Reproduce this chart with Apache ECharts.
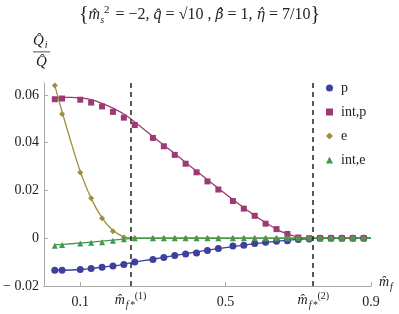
<!DOCTYPE html>
<html><head><meta charset="utf-8">
<script src="https://cdn.jsdelivr.net/npm/echarts@6/dist/echarts.min.js"></script>
<style>html,body{margin:0;padding:0;background:#fff}#c{width:399px;height:314px}</style>
</head><body><div id="c"></div>
<script>
// ---- data ----
const ptX = [0.03,0.05,0.10,0.13,0.16,0.19,0.22,0.25,0.30,0.33,0.36,0.39,0.42,0.45,0.48,0.52,0.55,0.58,0.61,0.64,0.67,0.70,0.73,0.76,0.79,0.82,0.85,0.88];
const pVals    = [-0.0134,-0.0134,-0.0131,-0.0127,-0.0121,-0.0116,-0.0110,-0.0100,-0.0089,-0.0081,-0.0072,-0.0066,-0.0062,-0.0051,-0.0043,-0.0033,-0.0029,-0.0022,-0.0017,-0.0013,-0.0011,-0.0005,-0.0003,0,0,0,0,0];
const intPVals = [0.0582,0.0585,0.0580,0.0568,0.0552,0.0529,0.0505,0.0474,0.0420,0.0385,0.0349,0.0312,0.0276,0.0238,0.0204,0.0156,0.0124,0.0094,0.0061,0.0038,0.0018,0.0003,0,0,0,0,0,0];
const eVals    = [0.0640,0.0520,0.0275,0.0167,0.0084,0.0029,0.0003,0,0,0,0,0,0,0,0,0,0,0,0,0,0,0,0,0,0,0,0,0];
const intEVals = [-0.0031,-0.0028,-0.0022,-0.0019,-0.0017,-0.0011,-0.0004,0,0,0,0,0,0,0,0,0,0,0,0,0,0,0,0,0,0,0,0,0];
// fitted curves
const cvX      = [0.03,0.05,0.075,0.10,0.13,0.16,0.19,0.22,0.25,0.30,0.35,0.40,0.45,0.50,0.55,0.60,0.65,0.70,0.75,0.80,0.85,0.90];
const pCurve   = [-0.0134,-0.0134,-0.0133,-0.0131,-0.0127,-0.0121,-0.0116,-0.0109,-0.0100,-0.0088,-0.0075,-0.0062,-0.0050,-0.0039,-0.0029,-0.0019,-0.0011,-0.0005,-0.0001,0,0,0];
const intPCurve= [0.0588,0.0590,0.0590,0.0588,0.0580,0.0565,0.0545,0.0520,0.0487,0.0426,0.0366,0.0305,0.0245,0.0185,0.0128,0.0075,0.0030,0.0005,0,0,0,0];
const eCurve   = [0.0640,0.0530,0.0400,0.0280,0.0167,0.0085,0.0032,0.0006,0,0,0,0,0,0,0,0,0,0,0,0,0,0];
const intECurve= [-0.0028,-0.0026,-0.0023,-0.0020,-0.0016,-0.0012,-0.0008,-0.0004,0,0,0,0,0,0,0,0,0,0,0,0,0,0];
const yTicks = [-0.02,0,0.02,0.04,0.06];
const xTicks = [0.1,0.5,0.9];
const critX = [0.239, 0.742];
const names = ['p','int,p','e','int,e'];
const colors = ['#3f3f9c','#9b3a74','#9c8f3d','#3e9a4c'];
const symbols = ['circle','rect','diamond','triangle'];
const symSizes = [7,6,6,6];

const F = 'Liberation Serif';
const G = 'DejaVu Serif';
const zip = (xs, ys) => xs.map((x,i)=>[x,ys[i]]);
const ptData = [pVals,intPVals,eVals,intEVals];
const cvData = [pCurve,intPCurve,eCurve,intECurve];

const series = [];
for (let i=0;i<4;i++){
  series.push({type:'line', data:zip(cvX,cvData[i]), smooth:0.25, showSymbol:false, silent:true,
    lineStyle:{color:colors[i], width:1.3}, z:2});
}
for (let i=0;i<4;i++){
  series.push({type:'scatter', name:names[i], data:zip(ptX,ptData[i]), symbol:symbols[i], symbolSize:symSizes[i],
    itemStyle:{color:colors[i], opacity:1}, z:3});
}
series.push({type:'line', data:[], markLine:{silent:true, symbol:'none', label:{show:false},
  lineStyle:{color:'#222', type:[5,4], width:1.5}, data:critX.map(v=>({xAxis:v}))}});

const it = {fontFamily:F, fontSize:16, color:'#222', fontStyle:'italic'};
const gr = {fontFamily:G, fontSize:14, color:'#222', fontStyle:'italic'};
const up = {fontFamily:F, fontSize:16, color:'#222', fontStyle:'normal'};
const chart = echarts.init(document.getElementById('c'), null, {renderer:'canvas'});
chart.setOption({
  animation:false,
  title:{text:'{{i|m̂}{sub|s}{sup|2}{a| = −2, }{i|q̂}{a| = √10 , }{g|β̂}{a| = 1, }{g|η̂}{a| = 7/10}}', left:'center', top:0,
    textStyle:{fontFamily:F, fontSize:20, fontWeight:'normal', color:'#222',
      rich:{a:up, i:it, g:gr,
            sub:{fontFamily:F, fontSize:10, fontStyle:'italic', color:'#222', verticalAlign:'bottom', padding:[8,0,0,0]},
            sup:{fontFamily:F, fontSize:11, color:'#222', verticalAlign:'top', padding:[0,2,8,0]}}}},
  grid:{left:41, right:28, top:83, bottom:28},
  legend:{orient:'vertical', left:321, top:76, itemWidth:7, itemHeight:7, itemGap:10,
    data:names, textStyle:{fontFamily:F, fontSize:14, color:'#222', padding:[0,0,0,3]}},
  xAxis:{type:'value', min:0, max:0.9,
    name:'{a|m̂}{sub|f}', nameLocation:'end', nameGap:8,
    nameTextStyle:{rich:{a:{fontFamily:F, fontSize:14, fontStyle:'italic', color:'#222', padding:[0,0,8,0]}, sub:{fontFamily:F, fontSize:10, fontStyle:'italic', color:'#222', padding:[2,0,0,1]}}},
    axisLine:{onZero:false, lineStyle:{color:'#a8a8a8', width:1}},
    axisTick:{inside:true, length:4, customValues:xTicks, lineStyle:{color:'#a8a8a8'}},
    axisLabel:{customValues:xTicks, fontFamily:F, fontSize:14, color:'#222', margin:9,
      formatter:v=>String(+v.toFixed(2))},
    splitLine:{show:false}},
  yAxis:{type:'value', min:-0.02, max:0.065,
    axisLine:{show:true, onZero:false, lineStyle:{color:'#a8a8a8', width:1}},
    axisTick:{show:true, inside:true, length:4, customValues:yTicks, lineStyle:{color:'#a8a8a8'}},
    axisLabel:{customValues:yTicks, fontFamily:F, fontSize:14, color:'#222', margin:5,
      formatter:v=> Math.abs(v)<1e-9 ? '0' : (v<0 ? '− '+Math.abs(v).toFixed(2) : v.toFixed(2))},
    splitLine:{show:false}},
  series:series
});

// annotations: y-axis label fraction and critical-point labels
const gx = critX.map(v=>chart.convertToPixel({xAxisIndex:0}, v));
const gy = chart.convertToPixel({yAxisIndex:0}, -0.02);
const textStyleRich = {a:{fontFamily:F, fontSize:14, fontStyle:'italic', fill:'#222'}, sub:{fontFamily:F, fontSize:10, fontStyle:'italic', fill:'#222', padding:[10,0,0,1]}, sup:{fontFamily:F, fontSize:10, fill:'#222', padding:[0,0,8,0]}};
const graphics = [
  {type:'text', left:33, top:34, style:{text:'{a|Q̂}{sub|i}', rich:{a:{fontFamily:F, fontSize:15, fontStyle:'italic', fill:'#222'}, sub:{fontFamily:F, fontSize:10, fontStyle:'italic', fill:'#222', padding:[8,0,0,1]}}}},
  {type:'rect', shape:{x:33, y:51.5, width:17, height:0.8}, style:{fill:'#222'}},
  {type:'text', left:36, top:55, style:{text:'Q̂', fontFamily:F, fontSize:15, fontStyle:'italic', fill:'#222'}}
];
['(1)','(2)'].forEach((s,i)=>{
  graphics.push({type:'text', x:gx[i]-16, y:gy+4, style:{text:'{a|m̂}{sub|f}{sub|*}{sup|'+s+'}', rich:textStyleRich}});
});
chart.setOption({graphic:graphics});
</script></body></html>
